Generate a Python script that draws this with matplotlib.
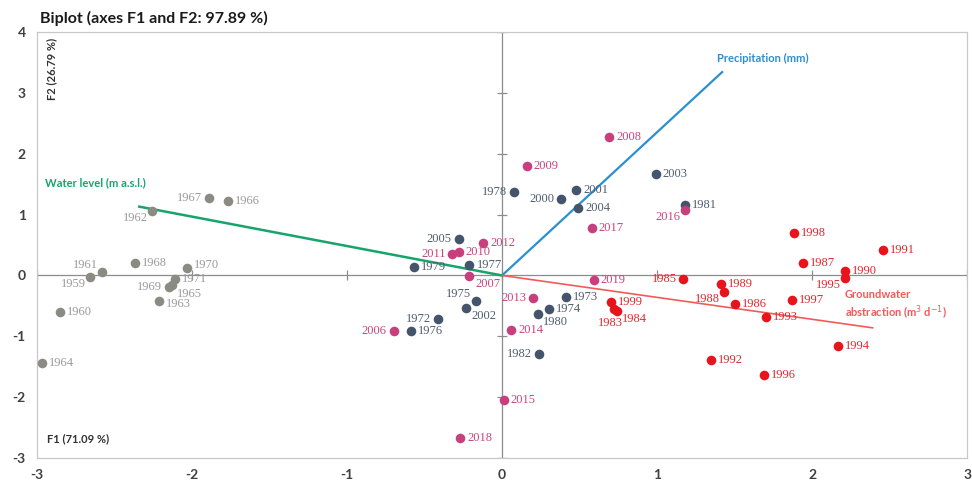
import matplotlib
matplotlib.use('Agg')
import matplotlib.pyplot as plt

# observations (years), grouped by the colour used in the chart
grey_years = [1959, 1960, 1961, 1962, 1963, 1964, 1965, 1966, 1967, 1968, 1969, 1970, 1971]
grey_f1 = [-2.66, -2.85, -2.58, -2.26, -2.21, -2.97, -2.13, -1.77, -1.89, -2.37, -2.15, -2.03, -2.11]
grey_f2 = [-0.02, -0.60, 0.06, 1.06, -0.42, -1.44, -0.16, 1.22, 1.27, 0.21, -0.19, 0.12, -0.06]

navy_years = [1972, 1973, 1974, 1975, 1976, 1977, 1978, 1979, 1980, 1981, 1982,
              2000, 2001, 2002, 2003, 2004, 2005]
navy_f1 = [-0.41, 0.41, 0.30, -0.17, -0.59, -0.21, 0.08, -0.57, 0.23, 1.18, 0.24,
           0.38, 0.48, -0.23, 0.99, 0.49, -0.28]
navy_f2 = [-0.71, -0.35, -0.55, -0.42, -0.91, 0.17, 1.37, 0.14, -0.63, 1.16, -1.29,
           1.26, 1.40, -0.53, 1.67, 1.11, 0.60]

pink_years = [2006, 2007, 2008, 2009, 2010, 2011, 2012, 2013, 2014, 2015, 2016, 2017, 2018, 2019]
pink_f1 = [-0.70, -0.21, 0.69, 0.16, -0.28, -0.32, -0.12, 0.20, 0.06, 0.01, 1.18, 0.58, -0.27, 0.59]
pink_f2 = [-0.91, -0.01, 2.28, 1.80, 0.39, 0.35, 0.53, -0.37, -0.90, -2.05, 1.08, 0.78, -2.67, -0.07]

red_years = [1983, 1984, 1985, 1986, 1987, 1988, 1989, 1990, 1991, 1992, 1993,
             1994, 1995, 1996, 1997, 1998, 1999]
red_f1 = [0.72, 0.74, 1.17, 1.50, 1.94, 1.43, 1.41, 2.21, 2.46, 1.35, 1.70,
          2.17, 2.21, 1.69, 1.87, 1.88, 0.70]
red_f2 = [-0.55, -0.58, -0.06, -0.47, 0.21, -0.27, -0.14, 0.07, 0.42, -1.39, -0.68,
          -1.16, -0.04, -1.63, -0.40, 0.70, -0.44]

# variables (loadings)
var_names = ['Precipitation (mm)', 'Water level (m a.s.l.)', 'Groundwater\nabstraction (m$^3$ d$^{-1}$)']
var_f1 = [1.42, -2.34, 2.39]
var_f2 = [3.34, 1.13, -0.86]

x_ticks = [-3, -2, -1, 0, 1, 2, 3]
y_ticks = [-3, -2, -1, 0, 1, 2, 3, 4]

# where each year label sits relative to its point (default: right)
label_side = {
    1959: 'bl', 1961: 'tl', 1962: 'bl', 1963: 'rl', 1965: 'br', 1967: 'l', 1969: 'l',
    1970: 'tr',
    1972: 'l', 1975: 'tl', 1978: 'l', 1980: 'br', 1982: 'l', 2000: 'l', 2002: 'br', 2005: 'l',
    2006: 'l', 2007: 'br', 2011: 'l', 2013: 'l', 2016: 'bl',
    1983: 'b', 1984: 'br', 1985: 'l', 1988: 'bl', 1995: 'bl',
}
offsets = {
    'r': ((5, 0), 'left'), 'l': ((-5, 0), 'right'),
    'bl': ((-3, -5), 'right'), 'tl': ((-3, 5), 'right'),
    'br': ((4, -6), 'left'), 'tr': ((5, 2.5), 'left'), 'rl': ((5, -2), 'left'),
    'b': ((-2, -10), 'center'),
}

plt.rcParams['font.family'] = ['Lato', 'DejaVu Sans']
plt.rcParams['axes.unicode_minus'] = False

fig = plt.figure(figsize=(9.72, 4.9), dpi=100)
ax = fig.add_axes([0.038, 0.065, 0.957, 0.87])
ax.set_xlim(-3, 3)
ax.set_ylim(-3, 4)

# zero axes with small cross ticks
ax.axhline(0, color='#8c8c8c', lw=0.9, zorder=1)
ax.axvline(0, color='#8c8c8c', lw=0.9, zorder=1)
ax.plot(x_ticks, [0] * len(x_ticks), ls='none', marker='|', ms=7, mew=0.9, color='#8c8c8c', zorder=1)
ax.plot([0] * len(y_ticks), y_ticks, ls='none', marker='_', ms=7, mew=0.9, color='#8c8c8c', zorder=1)

# variable vectors
vec_colors = ['#2b8fd3', '#17a46b', '#f25a5a']
vec_widths = [1.6, 1.8, 1.2]
vec_offsets = [(-4, 10), (-68, 17), (-20, 16)]
for name, vx, vy, c, lw, off in zip(var_names, var_f1, var_f2, vec_colors, vec_widths, vec_offsets):
    ax.plot([0, vx], [0, vy], color=c, lw=lw, zorder=2)
    ax.annotate(name, (vx, vy), xytext=off, textcoords='offset points',
                ha='left', va='center', fontsize=8, fontweight='bold', color=c,
                linespacing=1.3)

groups = [
    (grey_years, grey_f1, grey_f2, '#8b8b84', '#9a9a9a'),
    (navy_years, navy_f1, navy_f2, '#44546a', '#4f5d6e'),
    (pink_years, pink_f1, pink_f2, '#c73f7c', '#c8447f'),
    (red_years, red_f1, red_f2, '#e8131b', '#e3262e'),
]
for years, xs, ys, dot_c, txt_c in groups:
    ax.scatter(xs, ys, s=48, color=dot_c, zorder=3, linewidths=0)
    for yr, x, y in zip(years, xs, ys):
        off, ha = offsets[label_side.get(yr, 'r')]
        ax.annotate(str(yr), (x, y), xytext=off, textcoords='offset points',
                    ha=ha, va='center', fontsize=9, color=txt_c,
                    family=['Liberation Serif', 'DejaVu Serif'], zorder=4)

ax.set_xticks(x_ticks)
ax.set_yticks(y_ticks)
ax.tick_params(length=0, labelsize=10, labelcolor='#404040', pad=8)
for lbl in ax.get_xticklabels() + ax.get_yticklabels():
    lbl.set_fontweight('bold')
for sp in ax.spines.values():
    sp.set_color('#c8c8c8')
    sp.set_linewidth(0.9)

fig.text(0.041, 0.962, 'Biplot (axes F1 and F2: 97.89 %)', fontsize=11.5,
         fontweight='bold', color='#1a1a1a', va='center')
ax.text(0.01, 0.985, 'F2 (26.79 %)', transform=ax.transAxes, rotation=90,
        ha='left', va='top', fontsize=8, fontweight='bold', color='#333333')
ax.text(0.011, 0.045, 'F1 (71.09 %)', transform=ax.transAxes,
        ha='left', va='center', fontsize=8, fontweight='bold', color='#333333')

fig.savefig('out.png', dpi=100)
